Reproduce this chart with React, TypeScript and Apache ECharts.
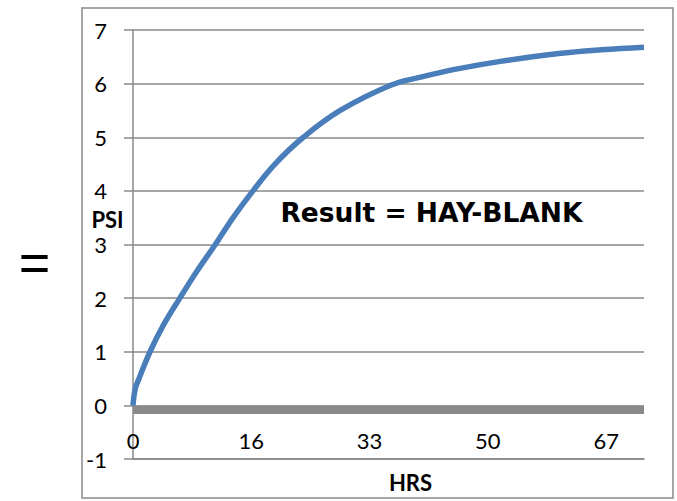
import React, { useEffect, useRef } from "react";
import * as echarts from "echarts";

const hours = [0, 0.3, 0.85, 2.4, 4.3, 6.6, 9.0, 11.6, 14.1, 16.9, 20.0, 24.0, 29.2, 36.3, 40.5, 45.5, 52.0, 60.0, 66.0, 72];
const psi = [0, 0.3, 0.5, 1.0, 1.5, 2.0, 2.5, 3.0, 3.5, 4.0, 4.5, 5.0, 5.5, 5.97, 6.12, 6.27, 6.42, 6.56, 6.63, 6.68];
const blankHours = [0, 72];
const blankPsi = [-0.08, -0.08];
const xTickLabels = ["0", "16", "33", "50", "67"];
const xStep = 50 / 3;

const FONT = "Lato";

export default function App() {
  const ref = useRef<HTMLDivElement>(null);
  useEffect(() => {
    if (!ref.current) return;
    const chart = echarts.init(ref.current, undefined, { renderer: "svg" });
    chart.setOption({
      animation: false,
      backgroundColor: "#ffffff",
      grid: { left: 133, right: 33, top: 30, bottom: 42, containLabel: false },
      xAxis: {
        type: "value",
        min: 0,
        max: 72,
        interval: xStep,
        axisLine: { show: true, onZero: false, lineStyle: { color: "#888888", width: 1.5 } },
        axisTick: { show: false },
        splitLine: { show: false },
        axisLabel: {
          showMaxLabel: false,
          margin: -30,
          color: "#000000",
          fontFamily: FONT,
          fontSize: 22,
          lineHeight: 22,
          formatter: (v: number) => {
            const i = Math.round(v / xStep);
            if (Math.abs(v - i * xStep) > 0.01) return "";
            return xTickLabels[i] ?? "";
          },
        },
      },
      yAxis: {
        type: "value",
        min: -1,
        max: 7,
        interval: 1,
        axisLine: { show: true, onZero: false, lineStyle: { color: "#888888", width: 1.5 } },
        axisTick: { show: true, inside: false, length: 9, lineStyle: { color: "#888888", width: 1.5 } },
        splitLine: { show: true, lineStyle: { color: "#888888", width: 1.5 } },
        axisLabel: { margin: 26, color: "#000000", fontFamily: FONT, fontSize: 22, lineHeight: 20 },
      },
      graphic: [
        {
          type: "rect",
          shape: { x: 82, y: 8, width: 591, height: 490 },
          style: { fill: "none", stroke: "#898989", lineWidth: 1.5 },
          silent: true,
          z: -1,
        },
        {
          type: "text",
          x: 107.5,
          y: 219,
          style: { text: "PSI", fill: "#000", font: `bold 22px ${FONT}`, lineHeight: 16, align: "center", verticalAlign: "middle" },
        },
        {
          type: "text",
          x: 410.5,
          y: 482,
          style: { text: "HRS", fill: "#000", font: `bold 22px ${FONT}`, align: "center", verticalAlign: "middle" },
        },
        {
          type: "text",
          x: 431.5,
          y: 212,
          style: { text: "Result = HAY-BLANK", fill: "#000", font: `bold 26.5px 'DejaVu Sans'`, align: "center", verticalAlign: "middle" },
        },
        {
          type: "text",
          x: 34.5,
          y: 262,
          style: { text: "=", fill: "#000", font: `54px 'Liberation Sans'`, align: "center", verticalAlign: "middle" },
        },
      ],
      series: [
        {
          name: "Blank",
          type: "line",
          data: blankHours.map((h, i) => [h, blankPsi[i]]),
          showSymbol: false,
          lineStyle: { color: "#898989", width: 8.5, cap: "butt" },
          z: 2,
        },
        {
          name: "Hay",
          type: "line",
          data: hours.map((h, i) => [h, psi[i]]),
          smooth: 0.4,
          showSymbol: false,
          lineStyle: { color: "#4a7ebb", width: 5.5, cap: "butt" },
          z: 3,
        },
      ],
    });
    return () => chart.dispose();
  }, []);
  return <div ref={ref} style={{ position: "fixed", left: 0, top: 0, width: 677, height: 501 }} />;
}
